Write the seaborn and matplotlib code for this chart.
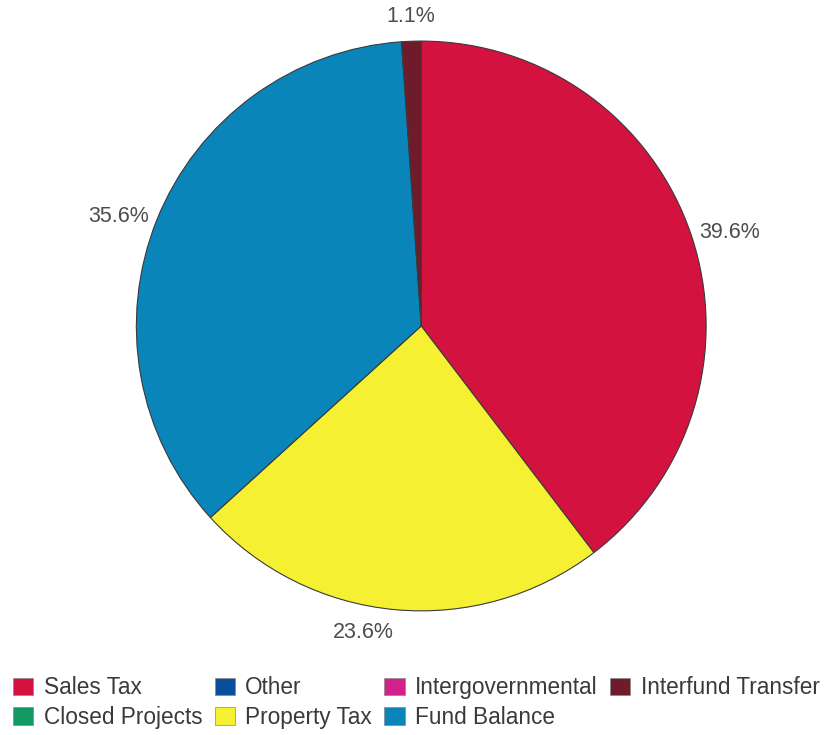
import matplotlib
matplotlib.use('Agg')
import numpy as np
import matplotlib.pyplot as plt
import seaborn as sns
from matplotlib.patches import Patch

sns.set_style('white')
plt.rcParams['font.family'] = ['Liberation Sans', 'DejaVu Sans']

# slices in drawing order (clockwise from top)
slice_names = ['Sales Tax', 'Property Tax', 'Fund Balance', 'Interfund Transfer']
slice_values = [39.6, 23.6, 35.6, 1.1]

# legend categories, in the row order shown on the chart
legend_names = ['Sales Tax', 'Other', 'Intergovernmental', 'Interfund Transfer',
                'Closed Projects', 'Property Tax', 'Fund Balance']

colors = {
    'Sales Tax': '#d3123f',
    'Other': '#0b4f9c',
    'Intergovernmental': '#d2228a',
    'Interfund Transfer': '#6e1c2b',
    'Closed Projects': '#119a62',
    'Property Tax': '#f6f032',
    'Fund Balance': '#0a85b9',
}

fig = plt.figure(figsize=(8.28, 7.35), dpi=100)
ax = fig.add_axes([0.0785, 0.072, 0.8605, 0.969])

wedges, texts = ax.pie(
    slice_values,
    colors=[colors[n] for n in slice_names],
    startangle=90,
    counterclock=False,
    wedgeprops=dict(edgecolor='#3a3a3a', linewidth=0.8),
)
ax.set_aspect('equal')

# percentage labels just outside the rim, aligned away from the pie
for w, v in zip(wedges, slice_values):
    mid = np.deg2rad((w.theta1 + w.theta2) / 2)
    cx, cy = np.cos(mid), np.sin(mid)
    ha = 'left' if cx > 0.05 else ('right' if cx < -0.05 else 'center')
    va = 'bottom' if cy > 0.9 else ('top' if cy < -0.9 else 'center')
    r = {'bottom': 1.05, 'top': 1.045}.get(va, 1.03)
    ax.text(r * cx, r * cy, f'{v:.1f}%', ha=ha, va=va,
            fontsize=15.5, color='#4d4d4d')

# legend: matplotlib fills columns first, so reorder the row-major list
ncol = 4
rows = [legend_names[:4], legend_names[4:]]
ordered = []
for c in range(ncol):
    for r in rows:
        if c < len(r):
            ordered.append(r[c])
handles = [Patch(facecolor=colors[n], edgecolor='#888888', linewidth=0.5) for n in ordered]
fig.legend(handles, ordered, loc='lower left', bbox_to_anchor=(0.0157, 0.008),
           ncol=ncol, frameon=False, fontsize=16.3, handlelength=0.9,
           handleheight=0.82, handletextpad=0.45, columnspacing=0.55,
           labelspacing=0.3, borderpad=0, borderaxespad=0,
           labelcolor='#3a3a3a')

fig.savefig('out.png', dpi=100)
